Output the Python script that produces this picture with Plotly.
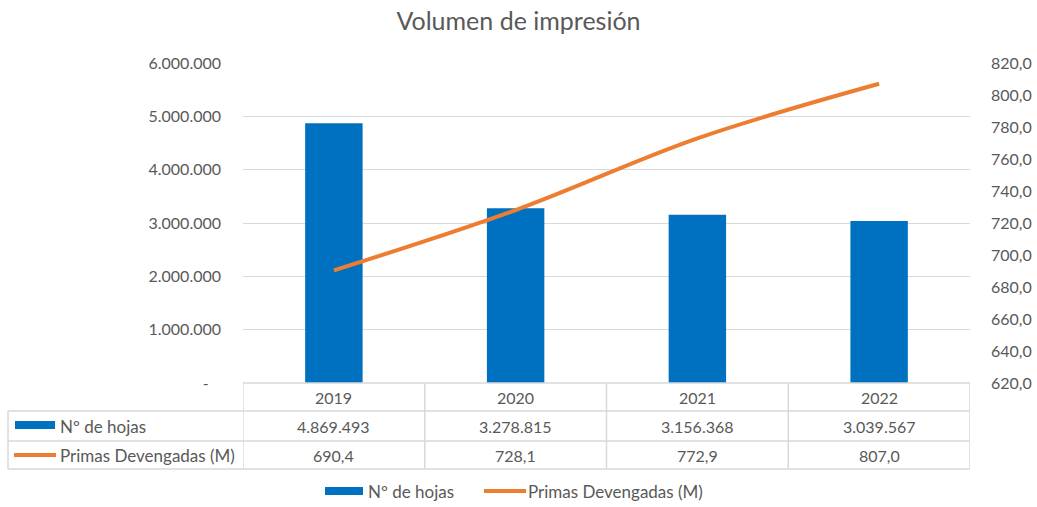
import plotly.graph_objects as go

# Data
years = ["2019", "2020", "2021", "2022"]
hojas = [4869493, 3278815, 3156368, 3039567]
primas = [690.4, 728.1, 772.9, 807.0]

left_ticks = [0, 1000000, 2000000, 3000000, 4000000, 5000000, 6000000]
right_ticks = [620, 640, 660, 680, 700, 720, 740, 760, 780, 800, 820]

BLUE = "#0070C0"
ORANGE = "#ED7D31"
TXT = "#595959"
GRID = "#D9D9D9"
FONT = "Lato"

# Canvas / plot-area in pixels (used only for layout placement)
W, H = 1037, 507
L, R, T, B = 243, 970, 63, 383


def fx(p):  # pixel x -> paper x
    return (p - L) / (R - L)


def fy(p):  # pixel y -> paper y
    return (B - p) / (B - T)


def fmt_int(v):
    return f"{v:,}".replace(",", ".")


def fmt_dec(v):
    return f"{v:.1f}".replace(".", ",")


fig = go.Figure()
fig.add_trace(go.Bar(x=years, y=hojas, name="Nº de hojas", marker_color=BLUE, marker_line_width=0))
fig.add_trace(go.Scatter(x=years, y=primas, name="Primas Devengadas (M)", yaxis="y2", mode="lines",
                         line=dict(color=ORANGE, width=4, shape="spline", smoothing=1)))

fig.update_layout(
    width=W, height=H,
    margin=dict(l=L, r=W - R, t=T, b=H - B, autoexpand=False),
    paper_bgcolor="white", plot_bgcolor="white",
    showlegend=False,
    bargap=0.684,
    font=dict(family=FONT, size=16, color=TXT),
    title=dict(text="Volumen de impresión", x=0.5, xanchor="center", y=1 - 21 / H, yanchor="middle",
               font=dict(family=FONT, size=25, color=TXT)),
    xaxis=dict(type="category", range=[-0.5, 3.5], showticklabels=False, showline=False,
               showgrid=False, zeroline=False, ticks=""),
    yaxis=dict(range=[0, 6000000], tickvals=left_ticks,
               ticktext=["-\u00a0\u00a0\u00a0"] + [fmt_int(v) for v in left_ticks[1:]],
               showgrid=True, gridcolor=GRID, gridwidth=1, zeroline=False, showline=False,
               ticks="", ticklabelstandoff=21, tickfont=dict(size=16, color=TXT)),
    yaxis2=dict(range=[620, 820], tickvals=right_ticks, ticktext=[fmt_dec(v) for v in right_ticks],
                overlaying="y", side="right", showgrid=False, zeroline=False, showline=False,
                ticks="", ticklabelstandoff=20, tickfont=dict(size=16, color=TXT)),
)

# Data table under the plot
rows_y = [383, 411, 441, 469]
line_style = dict(color=GRID, width=1.5)
left_edge = fx(8)
# horizontal lines
fig.add_shape(type="line", xref="x", yref="paper", x0=-0.5, x1=3.5, y0=fy(rows_y[0]), y1=fy(rows_y[0]), line=line_style)
for ry in rows_y[1:]:
    fig.add_shape(type="line", xref="paper", yref="paper", x0=left_edge, x1=1, y0=fy(ry), y1=fy(ry), line=line_style)
# vertical lines
fig.add_shape(type="line", xref="paper", yref="paper", x0=left_edge, x1=left_edge,
              y0=fy(rows_y[1]), y1=fy(rows_y[3]), line=line_style)
for i in range(len(years) + 1):
    fig.add_shape(type="line", xref="x", yref="paper", x0=i - 0.5, x1=i - 0.5,
                  y0=fy(rows_y[0]), y1=fy(rows_y[3]), line=line_style)

# header + values (category axis annotations use category index)
row_mid = [(rows_y[k] + rows_y[k + 1]) / 2 for k in range(3)]
for i, yr in enumerate(years):
    fig.add_annotation(x=i, xref="x", yref="paper", y=fy(row_mid[0]), text=yr, showarrow=False,
                       yanchor="middle", font=dict(size=16, color=TXT))
    fig.add_annotation(x=i, xref="x", yref="paper", y=fy(row_mid[1]), text=fmt_int(hojas[i]),
                       showarrow=False, yanchor="middle", font=dict(size=16, color=TXT))
    fig.add_annotation(x=i, xref="x", yref="paper", y=fy(row_mid[2]), text=fmt_dec(primas[i]),
                       showarrow=False, yanchor="middle", font=dict(size=16, color=TXT))

# row keys
fig.add_shape(type="rect", xref="paper", yref="paper", x0=fx(15), x1=fx(55), y0=fy(429), y1=fy(421),
              fillcolor=BLUE, line_width=0)
fig.add_annotation(x=fx(58), xref="paper", yref="paper", y=fy(row_mid[1]), text="Nº de hojas",
                   showarrow=False, xanchor="left", yanchor="middle", font=dict(size=17, color=TXT))
fig.add_shape(type="line", xref="paper", yref="paper", x0=fx(14), x1=fx(56), y0=fy(455), y1=fy(455),
              line=dict(color=ORANGE, width=4))
fig.add_annotation(x=fx(58), xref="paper", yref="paper", y=fy(row_mid[2]), text="Primas Devengadas (M)",
                   showarrow=False, xanchor="left", yanchor="middle", font=dict(size=17, color=TXT))

# bottom legend
fig.add_shape(type="rect", xref="paper", yref="paper", x0=fx(325), x1=fx(363), y0=fy(495), y1=fy(487),
              fillcolor=BLUE, line_width=0)
fig.add_annotation(x=fx(366), xref="paper", yref="paper", y=fy(491), text="Nº de hojas",
                   showarrow=False, xanchor="left", yanchor="middle", font=dict(size=17, color=TXT))
fig.add_shape(type="line", xref="paper", yref="paper", x0=fx(484), x1=fx(526), y0=fy(491), y1=fy(491),
              line=dict(color=ORANGE, width=4))
fig.add_annotation(x=fx(526), xref="paper", yref="paper", y=fy(491), text="Primas Devengadas (M)",
                   showarrow=False, xanchor="left", yanchor="middle", font=dict(size=17, color=TXT))

# drop the default page margin so the figure sits at the window's top-left corner
fig.write_html("out.html", config={"displayModeBar": False},
               post_script="document.body.style.margin='0';")
